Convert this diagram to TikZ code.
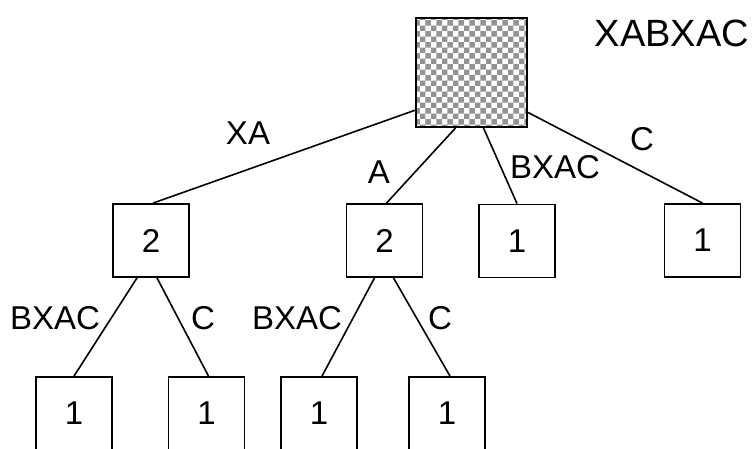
\documentclass[tikz,border=0pt]{standalone}
\usepackage{fontspec}
\setmainfont{Liberation Sans}
\usetikzlibrary{patterns,calc}
\begin{document}
\begin{tikzpicture}[x=1pt,y=-1pt,
  treebox/.style={draw=black,line width=1.8pt,fill=white,minimum width=76pt,minimum height=73pt,inner sep=0pt,font=\fontsize{33}{35}\selectfont},
  rootbox/.style={draw=black,line width=2pt,minimum width=111pt,minimum height=109pt,inner sep=0pt,pattern=checkerboard,pattern color=gray!85},
  lbl/.style={inner sep=0pt,font=\fontsize{33}{35}\selectfont},
  edge/.style={draw=black,line width=1.6pt}]
\clip (0,0) rectangle (755,448);
\useasboundingbox (0,0) rectangle (755,448);
\fill[white] (0,0) rectangle (755,448);
\node[rootbox] (root) at (471.5,72.5) {};
\node[lbl,font=\fontsize{38}{40}\selectfont] (title) at (672,33) {XABXAC};
\node[treebox] (b1) at (151,240.5) {2};
\node[treebox] (b2) at (384.5,240.5) {2};
\node[treebox] (b3) at (517,241) {1};
\node[treebox] (b4) at (702.5,240.5) {1};
\node[treebox] (c1) at (74,413.5) {1};
\node[treebox] (c2) at (206.5,413.5) {1};
\node[treebox] (c3) at (319,413.5) {1};
\node[treebox] (c4) at (447,413.5) {1};
\draw[edge] ($(root.south west)!0.16!(root.north west)$) -- ($(b1.north)+(2,0)$);
\draw[edge] ($(root.south)+(-16,0)$) -- ($(b2.north)+(2,0)$);
\draw[edge] ($(root.south)+(12,0)$) -- (b3.north);
\draw[edge] ($(root.south east)!0.14!(root.north east)$) -- (b4.north);
\draw[edge] ($(b1.south)+(-14,0)$) -- (c1.north);
\draw[edge] ($(b1.south)+(6,0)$) -- ($(c2.north)+(2,0)$);
\draw[edge] ($(b2.south)+(-10,0)$) -- ($(c3.north)+(3,0)$);
\draw[edge] ($(b2.south)+(9,0)$) -- ($(c4.north)+(3,0)$);
\node[lbl] (l1) at (248,133) {XA};
\node[lbl] (l2) at (379,172) {A};
\node[lbl] (l3) at (555,167) {BXAC};
\node[lbl] (l4) at (642,139) {C};
\node[lbl] (l5) at (55,318) {BXAC};
\node[lbl] (l6) at (203,318) {C};
\node[lbl] (l7) at (297,318) {BXAC};
\node[lbl] (l8) at (440,318) {C};
\end{tikzpicture}
\end{document}
